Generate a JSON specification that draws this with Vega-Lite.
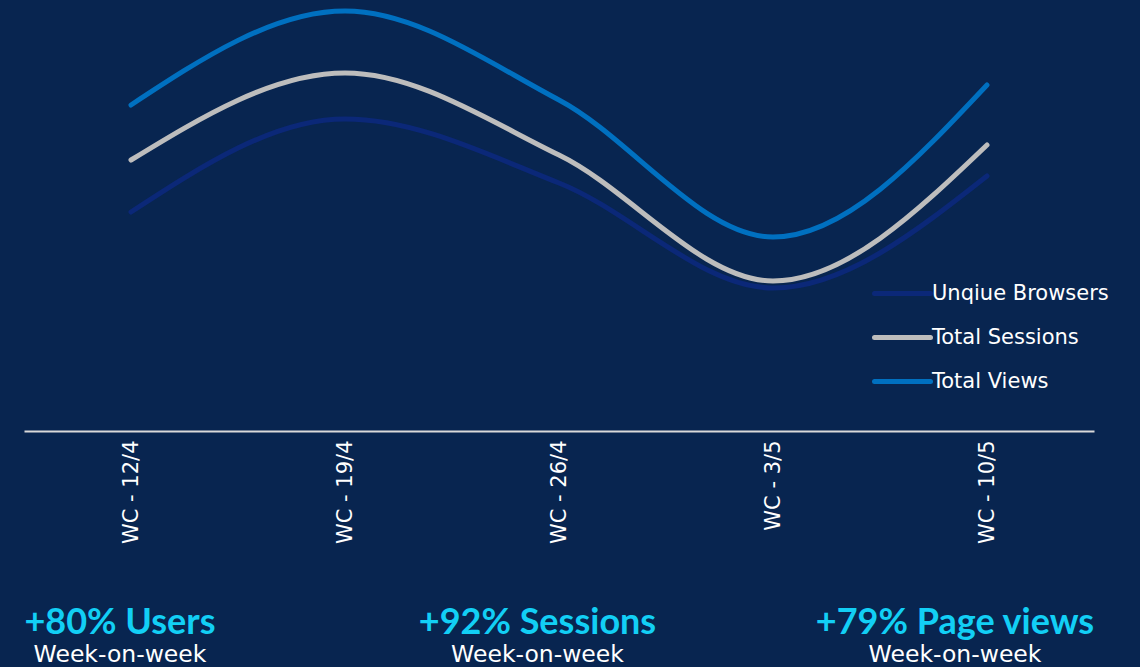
{
  "$schema": "https://vega.github.io/schema/vega-lite/v6.json",
  "background": "#082550",
  "padding": {"left": 24, "top": 0, "right": 0, "bottom": 0},
  "spacing": 175,
  "bounds": "flush",
  "config": {"view": {"stroke": null}},
  "vconcat": [
    {
      "width": 1070,
      "height": 431,
      "data": {"values": [
        {"week": "WC - 12/4", "series": "Unqiue Browsers", "value": 219},
        {"week": "WC - 19/4", "series": "Unqiue Browsers", "value": 312},
        {"week": "WC - 26/4", "series": "Unqiue Browsers", "value": 248},
        {"week": "WC - 3/5", "series": "Unqiue Browsers", "value": 143},
        {"week": "WC - 10/5", "series": "Unqiue Browsers", "value": 255},
        {"week": "WC - 12/4", "series": "Total Sessions", "value": 271},
        {"week": "WC - 19/4", "series": "Total Sessions", "value": 358},
        {"week": "WC - 26/4", "series": "Total Sessions", "value": 276},
        {"week": "WC - 3/5", "series": "Total Sessions", "value": 150},
        {"week": "WC - 10/5", "series": "Total Sessions", "value": 286},
        {"week": "WC - 12/4", "series": "Total Views", "value": 326},
        {"week": "WC - 19/4", "series": "Total Views", "value": 420},
        {"week": "WC - 26/4", "series": "Total Views", "value": 331},
        {"week": "WC - 3/5", "series": "Total Views", "value": 194},
        {"week": "WC - 10/5", "series": "Total Views", "value": 346}
      ]},
      "mark": {"type": "line", "interpolate": "monotone", "strokeWidth": 5, "strokeCap": "round"},
      "encoding": {
        "x": {
          "field": "week", "type": "ordinal",
          "sort": ["WC - 12/4", "WC - 19/4", "WC - 26/4", "WC - 3/5", "WC - 10/5"],
          "scale": {"type": "point", "padding": 0.5},
          "axis": {"title": null, "grid": false, "ticks": false, "domain": true, "domainColor": "#D9D9D9", "domainWidth": 2, "labelAngle": 270, "labelPadding": 9, "labelColor": "#FFFFFF", "labelFont": "DejaVu Sans", "labelFontSize": 21}
        },
        "y": {"field": "value", "type": "quantitative", "scale": {"domain": [0, 431]}, "axis": null},
        "color": {
          "field": "series", "type": "nominal",
          "scale": {"domain": ["Unqiue Browsers", "Total Sessions", "Total Views"], "range": ["#0B2878", "#BDBDBD", "#0070C0"]},
          "legend": {"title": null, "orient": "none", "legendX": 848, "legendY": 263, "symbolType": "stroke", "symbolSize": 3136, "symbolStrokeWidth": 5, "labelFont": "DejaVu Sans", "labelFontSize": 21, "labelColor": "#FFFFFF", "labelOffset": -1, "labelLimit": 400, "rowPadding": 3,
            "encode": {"symbols": {"update": {"strokeCap": {"value": "round"}}}}}
        }
      }
    },
    {
      "width": 1116,
      "height": 61,
      "data": {"values": [
        {"metric": "Users", "headline": "+80% Users", "sub": "Week-on-week"},
        {"metric": "Sessions", "headline": "+92% Sessions", "sub": "Week-on-week"},
        {"metric": "Page views", "headline": "+79% Page views", "sub": "Week-on-week"}
      ]},
      "encoding": {
        "x": {"field": "metric", "type": "nominal", "sort": ["Users", "Sessions", "Page views"], "scale": {"type": "point", "padding": 0.3365, "align": 0.3416}, "axis": null}
      },
      "layer": [
        {"mark": {"type": "text", "font": "Lato", "fontWeight": "bold", "fontSize": 36, "color": "#12CFF5", "baseline": "alphabetic", "dy": -3},
         "encoding": {"text": {"field": "headline"}}},
        {"mark": {"type": "text", "font": "DejaVu Sans", "fontSize": 23.5, "color": "#FFFFFF", "baseline": "alphabetic", "dy": 25},
         "encoding": {"text": {"field": "sub"}}}
      ]
    }
  ]
}
